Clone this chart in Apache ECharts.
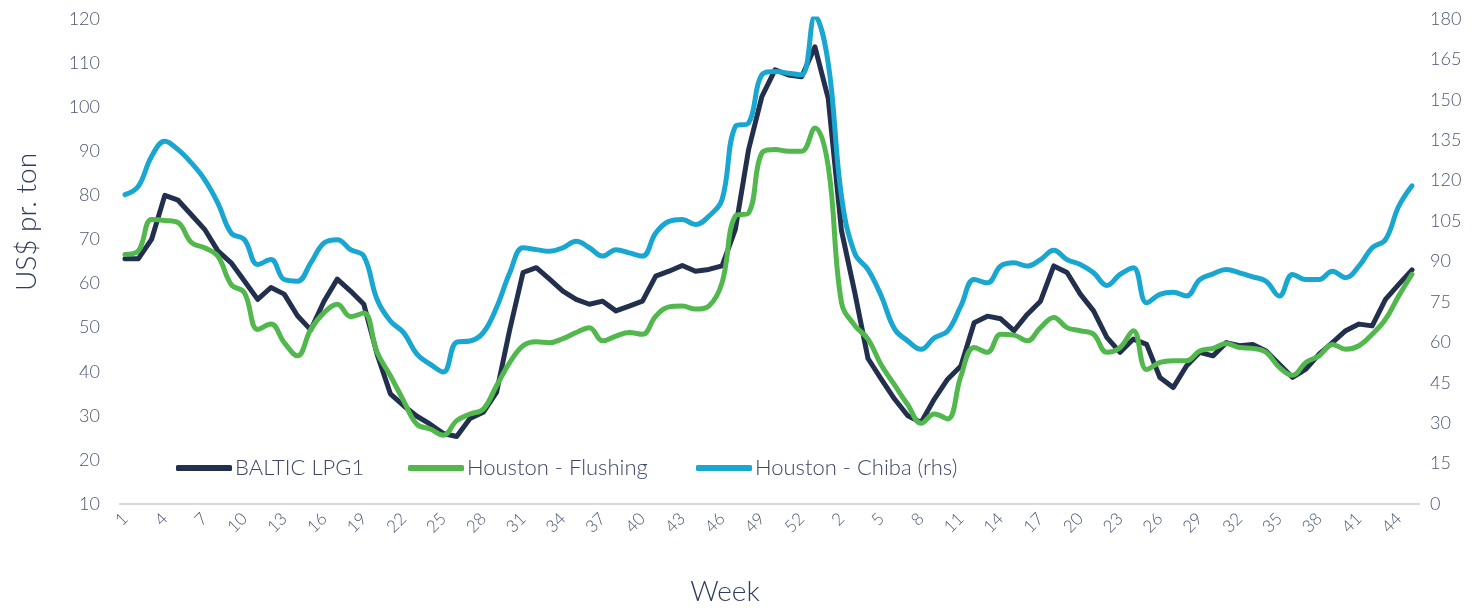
<!DOCTYPE html>
<html>
<head>
<meta charset="utf-8">
<script src="https://cdn.jsdelivr.net/npm/echarts@6/dist/echarts.min.js"></script>
<style>
html,body{margin:0;padding:0;background:#fff;}
#chart{width:1481px;height:609px;}
</style>
</head>
<body>
<div id="chart"></div>
<script>
// Week categories: 53 weeks of year 1, then weeks 1..45 of year 2
const weeksYear1 = [1,2,3,4,5,6,7,8,9,10,11,12,13,14,15,16,17,18,19,20,21,22,23,24,25,26,27,28,29,30,31,32,33,34,35,36,37,38,39,40,41,42,43,44,45,46,47,48,49,50,51,52,53];
const weeksYear2 = [1,2,3,4,5,6,7,8,9,10,11,12,13,14,15,16,17,18,19,20,21,22,23,24,25,26,27,28,29,30,31,32,33,34,35,36,37,38,39,40,41,42,43,44,45];
const categories = weeksYear1.concat(weeksYear2).map(String);

const balticLPG1 = [65.6,65.6,70.0,80.0,78.9,75.6,72.3,67.4,64.7,60.6,56.4,59.1,57.6,52.7,49.5,56.0,61.0,58.3,55.3,44.0,
35.0,32.3,29.9,28.1,26.0,25.3,29.4,30.8,35.3,49.6,62.5,63.6,61.0,58.3,56.4,55.3,56.0,53.8,54.9,56.0,
61.7,62.8,64.1,62.8,63.2,64.0,72.3,90.4,102.4,108.5,107.3,106.9,113.7,102.0,72.0,58.0,43.0,38.3,33.8,30.0,
28.5,33.8,38.3,41.3,51.1,52.6,52.0,49.3,53.0,56.0,64.0,62.5,57.6,53.8,47.8,44.4,47.4,46.2,38.7,36.4,
41.3,44.4,43.6,46.6,45.9,46.2,44.7,41.7,38.7,40.6,44.0,46.6,49.3,50.8,50.4,56.4,59.8,63.1];

const houstonFlushing = [66.6,67.4,74.5,74.3,73.8,69.3,68.1,66.2,59.8,57.9,49.6,50.8,46.6,43.6,49.6,53.4,55.3,52.5,53.3,44.4,
39.1,33.4,28.1,27.0,25.6,28.9,30.4,31.5,36.8,42.1,45.9,46.8,46.6,47.5,48.9,50.0,47.0,48.1,48.9,48.5,
52.6,54.7,54.9,54.2,54.9,60.2,75.3,76.0,89.6,90.4,90.0,90.0,95.3,86.6,55.7,50.5,47.4,41.5,37.0,32.5,
28.3,30.4,29.3,39.0,45.5,44.4,48.5,48.3,47.0,50.0,52.3,50.0,49.3,48.5,44.4,45.5,49.3,40.5,42.1,42.5,
42.5,44.7,45.3,46.4,45.5,45.3,44.4,41.0,39.2,42.1,43.6,46.2,45.1,45.9,48.5,51.9,57.2,62.1];

const houstonChiba = [114.8,117.9,129.0,134.6,131.5,126.6,120.4,111.7,100.6,98.1,88.9,90.7,83.3,82.7,89.5,96.9,98.1,94.4,92.0,75.9,
67.9,63.6,55.6,51.9,49.0,60.1,60.5,63.6,72.9,85.8,95.1,94.4,93.8,95.1,97.5,95.1,92.0,94.4,93.2,92.0,
100.6,104.9,105.6,103.7,106.8,113.0,140.1,141.4,159.3,160.5,159.9,159.3,181.0,163.6,114.2,93.0,87.0,77.2,65.0,60.5,
57.4,61.7,64.2,73.5,83.3,82.1,88.3,89.5,88.3,90.7,94.2,90.7,88.9,85.8,81.1,85.2,87.7,74.7,77.8,78.6,
77.2,83.3,85.4,87.0,85.8,84.3,82.7,77.2,85.2,83.3,83.3,86.4,84.0,88.3,95.1,98.1,110.5,118.1];

const seriesNames = ['BALTIC LPG1', 'Houston - Flushing', 'Houston - Chiba (rhs)'];
const leftTicks = {min: 10, max: 120, interval: 10};
const rightTicks = {min: 0, max: 180, interval: 15};

const FONT = 'Lato';
const labelColor = '#4b5671';
const titleColor = '#2f3b5a';
const cNavy = '#22304d';
const cGreen = '#52b84d';
const cBlue = '#19a6d0';

const legendLefts = [176, 408, 696];
const legendBase = {
  top: 457, padding: 0, itemWidth: 56, itemHeight: 6, icon: 'roundRect',
  textStyle: {fontFamily: FONT, fontSize: 22, fontWeight: 300, color: '#3b4765', padding: [0,0,0,-2]}
};

const chart = echarts.init(document.getElementById('chart'));
chart.setOption({
  animation: false,
  backgroundColor: '#ffffff',
  textStyle: {fontFamily: FONT},
  grid: {left: 125, right: 69, top: 19, bottom: 105, containLabel: false},
  legend: seriesNames.map((n, k) => Object.assign({}, legendBase, {left: legendLefts[k], data: [n]})),
  xAxis: {
    type: 'category',
    data: categories,
    boundaryGap: false,
    axisLine: {show: false},
    axisTick: {show: false},
    axisLabel: {interval: 2, rotate: 45, fontFamily: FONT, fontSize: 17, fontWeight: 300, color: labelColor, margin: 12},
    splitLine: {show: false}
  },
  yAxis: [
    {
      type: 'value', position: 'left',
      min: leftTicks.min, max: leftTicks.max, interval: leftTicks.interval,
      axisLine: {show: false}, axisTick: {show: false}, splitLine: {show: false},
      axisLabel: {fontFamily: FONT, fontSize: 18, fontWeight: 300, color: labelColor, margin: 25}
    },
    {
      type: 'value', position: 'right',
      min: rightTicks.min, max: rightTicks.max, interval: rightTicks.interval,
      axisLine: {show: false}, axisTick: {show: false}, splitLine: {show: false},
      axisLabel: {fontFamily: FONT, fontSize: 18, fontWeight: 300, color: labelColor, margin: 18}
    }
  ],
  graphic: [
    {type: 'line', shape: {x1: 119, y1: 504, x2: 1420, y2: 504}, style: {stroke: '#d9d9d9', lineWidth: 2}, z: 1},
    {type: 'text', x: 27, y: 222, rotation: Math.PI / 2,
     style: {text: 'US$ pr. ton', fontFamily: FONT, fontSize: 28, fontWeight: 300, fill: titleColor, align: 'center', verticalAlign: 'middle'}},
    {type: 'text', x: 725, y: 592,
     style: {text: 'Week', fontFamily: FONT, fontSize: 28, fontWeight: 300, fill: titleColor, align: 'center', verticalAlign: 'middle'}}
  ],
  series: [
    {name: seriesNames[0], type: 'line', yAxisIndex: 0, data: balticLPG1, showSymbol: false, smooth: false,
     lineStyle: {color: cNavy, width: 5, cap: 'round', join: 'round'}, itemStyle: {color: cNavy}, z: 3},
    {name: seriesNames[1], type: 'line', yAxisIndex: 0, data: houstonFlushing, showSymbol: false, smooth: 0.4,
     lineStyle: {color: cGreen, width: 5, cap: 'round'}, itemStyle: {color: cGreen}, z: 4},
    {name: seriesNames[2], type: 'line', yAxisIndex: 1, data: houstonChiba, showSymbol: false, smooth: 0.4,
     lineStyle: {color: cBlue, width: 5, cap: 'round'}, itemStyle: {color: cBlue}, z: 5}
  ]
});
</script>
</body>
</html>
